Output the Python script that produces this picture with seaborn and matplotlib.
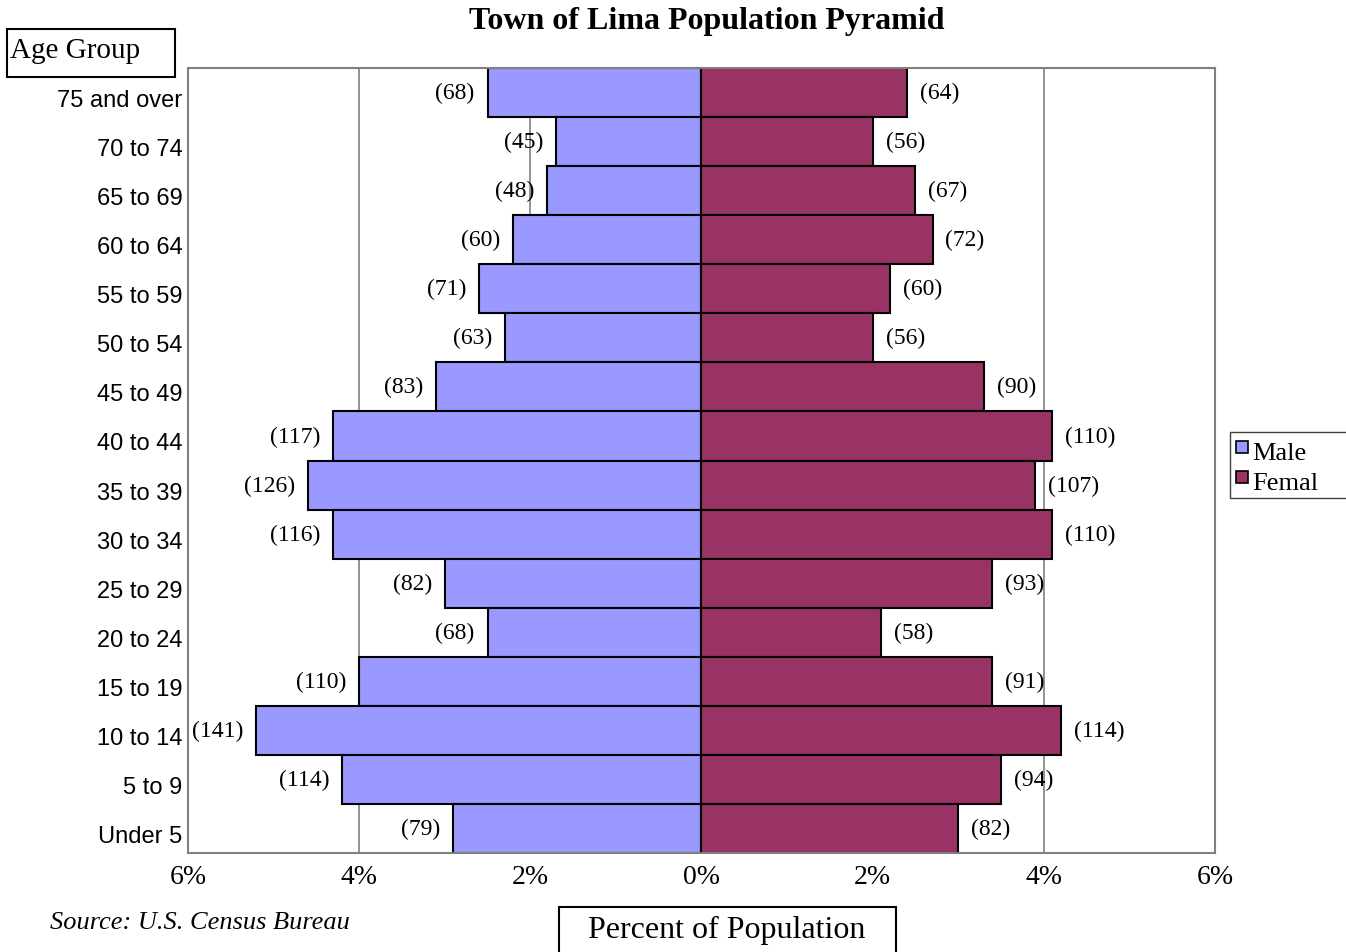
import pandas as pd
import matplotlib.pyplot as plt
import matplotlib.transforms as mtransforms
import seaborn as sns
from matplotlib.patches import Rectangle

# Age groups, top of pyramid first
age_groups = ["75 and over", "70 to 74", "65 to 69", "60 to 64", "55 to 59", "50 to 54",
              "45 to 49", "40 to 44", "35 to 39", "30 to 34", "25 to 29", "20 to 24",
              "15 to 19", "10 to 14", "5 to 9", "Under 5"]
male_pct = [2.5, 1.7, 1.8, 2.2, 2.6, 2.3, 3.1, 4.3, 4.6, 4.3, 3.0, 2.5, 4.0, 5.2, 4.2, 2.9]
female_pct = [2.4, 2.0, 2.5, 2.7, 2.2, 2.0, 3.3, 4.1, 3.9, 4.1, 3.4, 2.1, 3.4, 4.2, 3.5, 3.0]
male_count = [68, 45, 48, 60, 71, 63, 83, 117, 126, 116, 82, 68, 110, 141, 114, 79]
female_count = [64, 56, 67, 72, 60, 56, 90, 110, 107, 110, 93, 58, 91, 114, 94, 82]
x_ticks = [-6, -4, -2, 0, 2, 4, 6]
series = ["Male", "Femal"]

male_color = "#9999FF"
female_color = "#993366"

df = pd.DataFrame({"age": age_groups,
                   "male": [-v for v in male_pct],
                   "female": female_pct})

sns.set_theme(style="white")
plt.rcParams["font.family"] = ["Liberation Serif", "DejaVu Serif"]
plt.rcParams["text.color"] = "black"
plt.rcParams["xtick.color"] = "black"
plt.rcParams["ytick.color"] = "black"

W, H = 1346, 953
fig = plt.figure(figsize=(W / 100, H / 100), dpi=100)
ax = fig.add_axes([188 / W, 1 - 854 / H, (1215 - 188) / W, (854 - 69) / H])

# gridlines behind the bars
for t in x_ticks[1:-1]:
    if t != 0:
        ax.axvline(t, color="#808080", lw=1.2, zorder=0)

sns.barplot(data=df, x="male", y="age", orient="h", color=male_color,
            width=1.0, edgecolor="black", linewidth=1.5, saturation=1, ax=ax, zorder=2)
sns.barplot(data=df, x="female", y="age", orient="h", color=female_color,
            width=1.0, edgecolor="black", linewidth=1.5, saturation=1, ax=ax, zorder=2)

ax.set_xlim(-6, 6)
ax.set_ylim(len(age_groups) - 0.5, -0.5)

# value labels
for i in range(len(age_groups)):
    ax.text(-male_pct[i] - 0.15, i, f"({male_count[i]})", ha="right", va="center",
            fontsize=17)
    ax.text(female_pct[i] + 0.15, i, f"({female_count[i]})", ha="left", va="center",
            fontsize=17)

ax.set_xticks(x_ticks)
ax.set_xticklabels([f"{abs(t)}%" for t in x_ticks], fontsize=20)
ax.tick_params(axis="x", length=0, pad=8)
ax.tick_params(axis="y", length=0, pad=4)
ax.set_yticks(range(len(age_groups)))
ax.set_yticklabels(age_groups, fontsize=17, family=["Liberation Sans", "DejaVu Sans"])
# the category labels sit a little low in the original
shift = mtransforms.ScaledTranslation(0, -5 / 100, fig.dpi_scale_trans)
for lab in ax.get_yticklabels():
    lab.set_transform(lab.get_transform() + shift)
ax.set_xlabel("")
ax.set_ylabel("")

for s in ax.spines.values():
    s.set_color("#808080")
    s.set_linewidth(1.5)


def px_rect(x0, y0, x1, y1, **kw):
    fig.add_artist(Rectangle((x0 / W, 1 - y1 / H), (x1 - x0) / W, (y1 - y0) / H,
                             transform=fig.transFigure, **kw))


fig.text(0.525, 1 - 22 / H, "Town of Lima Population Pyramid", ha="center", va="center",
         fontsize=23, fontweight="bold")

px_rect(7, 30, 175, 78, fc="white", ec="black", lw=1.5)
fig.text(10 / W, 1 - 51 / H, "Age Group", ha="left", va="center", fontsize=21)

px_rect(559, 908, 896, 965, fc="white", ec="black", lw=1.5)
fig.text(727 / W, 1 - 930 / H, "Percent of Population", ha="center", va="center",
         fontsize=23)

fig.text(50 / W, 1 - 923 / H, "Source: U.S. Census Bureau", ha="left", va="center",
         fontsize=19, style="italic")

# legend box, clipped at right edge like the original
px_rect(1230, 433, 1360, 499, fc="white", ec="#404040", lw=1.0)
for k, (name, col) in enumerate(zip(series, [male_color, female_color])):
    yc = 454 + 30 * k
    px_rect(1236, yc - 12, 1248, yc, fc=col, ec="black", lw=1.2)
    fig.text(1252 / W, 1 - yc / H, name, ha="left", va="center", fontsize=19)

fig.savefig("out.png", dpi=100)
